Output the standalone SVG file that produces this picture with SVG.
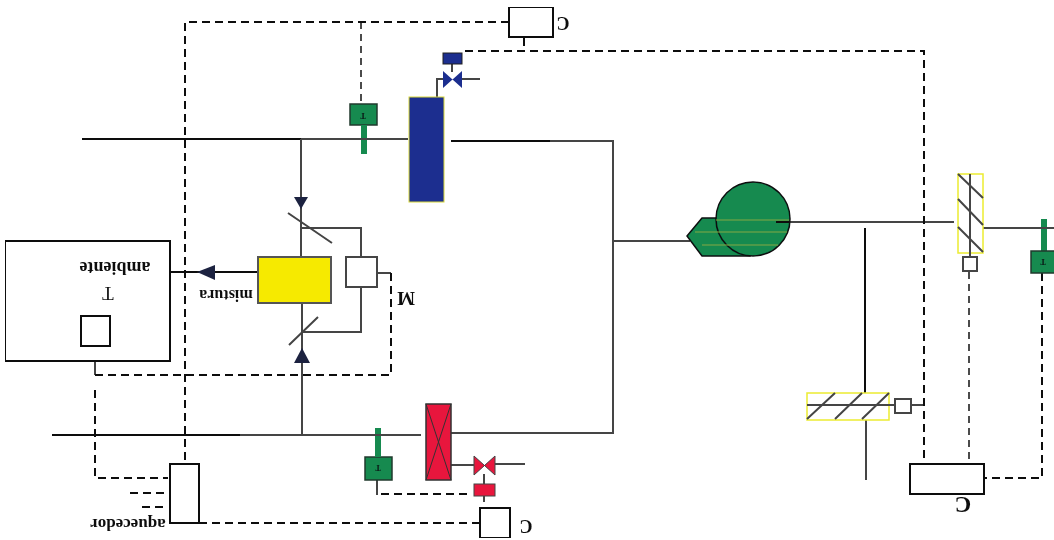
<svg xmlns="http://www.w3.org/2000/svg" width="1054" height="540" viewBox="0 0 1054 540">
<defs><filter id="soft" x="0" y="0" width="100%" height="100%"><feGaussianBlur stdDeviation="0.45"/></filter></defs>
<style>
.p{fill:none;stroke:#444;stroke-width:2}
.k{fill:none;stroke:#111;stroke-width:2}
.d{fill:none;stroke:#111;stroke-width:2;stroke-dasharray:8 5}
.h{fill:none;stroke:#111;stroke-width:1.5;stroke-dasharray:7 5}
.b{fill:#fff;stroke:#111;stroke-width:2}
.w{fill:#fff;stroke:#444;stroke-width:2}
.g{fill:#128a50;stroke:#1f3a2c;stroke-width:1.5}
.s{fill:#128a50}
.o{fill:none;stroke:#8aa840;stroke-width:1}
.y{fill:#fff;stroke:#ecec30;stroke-width:1.5}
.t{font-family:"Liberation Serif",serif;font-weight:bold;fill:#111}
.n{font-family:"Liberation Serif",serif;fill:#111}
.a{fill:#1c2340}
</style>
<rect width="1054" height="540" fill="#fff"/>
<g filter="url(#soft)">
<g id="connectors">
<path class="k" d="M82 139H301M52 435H240M451 141H550"/>
<path class="p" d="M301 139H408M240 435H302M302 435H421M550 141H613V433H451M613 241H690"/>
<path class="p" d="M301 139V258M302 435V303M302 228H361V257M302 332H361V287M377 273H391"/>
<path class="k" d="M170 272H258"/>
<path class="p" d="M437 97V79H444M461 79H480M452 64V72"/>
<path class="p" d="M451 465H474M495 464H525M484 474V484M484 496V502"/>
<path class="p" d="M776 222H954M970 228H1054"/>
<path class="k" d="M865 228V393"/>
<path class="p" d="M866 420V480M911 405H925"/>
<path class="p" d="M95 346V375M377 480V495"/>
<path class="d" d="M509 22H185V464M524 38V51M465 51H924V464"/>
<path class="h" d="M361 22V103M969 272V464"/>
<path class="d" d="M95 375H391V273M95 390V478H168M130 493H168M142 507H168M199 523H480M381 494H467"/>
<path class="d" d="M1042 273V478H985"/>
</g>
<g id="room"><rect class="b" x="5" y="241" width="165" height="120"/><rect class="b" x="81" y="316" width="29" height="30"/></g>
<g id="labels">
<text class="t" font-size="18" transform="translate(115 262) rotate(180)" text-anchor="middle">ambiente</text>
<text class="n" font-size="19" transform="translate(108 287) rotate(180)" text-anchor="middle">T</text>
<text class="t" font-size="16" transform="translate(226 290) rotate(180)" text-anchor="middle">mistura</text>
<text class="t" font-size="19" transform="translate(406 292) rotate(180)" text-anchor="middle">M</text>
<text class="t" font-size="17" transform="translate(128 519) rotate(180)" text-anchor="middle">aquecedor</text>
<text class="t" font-size="18" transform="translate(563 17) rotate(180)" text-anchor="middle">C</text>
<text class="t" font-size="18" transform="translate(526 520) rotate(180)" text-anchor="middle">C</text>
<text class="t" font-size="23" transform="translate(963 497) rotate(180)" text-anchor="middle">C</text>
</g>
<g id="arrows"><path class="a" d="M197 272L215 265V280Z"/><path class="a" d="M294 197H308L301 209Z"/><path class="a" d="M294 363H310L302 348Z"/></g>
<g id="mixer"><rect x="258" y="257" width="73" height="46" fill="#f6ea00" stroke="#555" stroke-width="2"/><rect class="w" x="346" y="257" width="31" height="30"/>
<path class="p" d="M288 213L332 243M289 345L318 317"/></g>
<g id="cooling-coil"><rect x="409" y="97" width="35" height="105" fill="#1d2f8f" stroke="#d8d83a" stroke-width="1"/></g>
<g id="cool-valve"><rect x="443" y="53" width="19" height="11" fill="#1d2f8f" stroke="#222"/><path d="M443 71L462 88V71L443 88Z" fill="#1d2f8f"/></g>
<g id="sensor-top"><rect class="g" x="350" y="104" width="27" height="21"/><rect class="s" x="361" y="125" width="6" height="29"/><path class="p" d="M352 139H376"/><text class="t" font-size="8" transform="translate(363 113) rotate(180)" text-anchor="middle">T</text></g>
<g id="heating-coil"><rect x="426" y="404" width="25" height="76" fill="#e8163c" stroke="#333" stroke-width="1.5"/><path d="M426 404L451 480M451 404L426 480" stroke="#333" fill="none"/></g>
<g id="heat-valve"><rect x="474" y="484" width="21" height="12" fill="#e8163c" stroke="#444"/><path d="M474 456L495 475V456L474 475Z" fill="#e8163c" stroke="#444"/></g>
<g id="sensor-bottom"><rect class="g" x="365" y="457" width="27" height="23"/><rect class="s" x="375" y="428" width="6" height="29"/><path class="p" d="M365 435H391"/><text class="t" font-size="8" transform="translate(378 465) rotate(180)" text-anchor="middle">T</text></g>
<g id="fan"><path class="g" d="M687 236L702 218H750V256H702Z" style="stroke:#111"/><circle class="g" cx="753" cy="219" r="37" style="stroke:#111"/><path class="o" d="M716 220H789M695 232H787M702 245H778"/><path d="M776 222H790" stroke="#111" stroke-width="2"/></g>
<g id="damper-right"><rect class="y" x="958" y="174" width="25" height="79"/><path class="p" d="M970 174V257M958 174L983 198M958 199L983 225M958 227L983 252"/><rect class="w" x="963" y="257" width="14" height="14"/></g>
<g id="sensor-right"><rect class="s" x="1041" y="219" width="6" height="32"/><rect class="g" x="1031" y="251" width="24" height="22"/><path class="p" d="M1041 228H1054"/><text class="t" font-size="8" transform="translate(1043 259) rotate(180)" text-anchor="middle">T</text></g>
<g id="damper-lower"><rect class="y" x="807" y="393" width="82" height="27"/><path class="p" d="M807 405H895M807 419L835 393M835 419L862 393M862 419L889 393"/><rect class="w" x="895" y="399" width="16" height="14"/></g>
<g id="controller-top"><rect class="b" x="509" y="7" width="44" height="30"/></g>
<g id="controller-bottom"><rect class="b" x="480" y="508" width="30" height="30"/></g>
<g id="controller-right"><rect class="b" x="910" y="464" width="74" height="30"/></g>
<g id="controller-left"><rect class="b" x="170" y="464" width="29" height="59"/></g>
</g>
</svg>
